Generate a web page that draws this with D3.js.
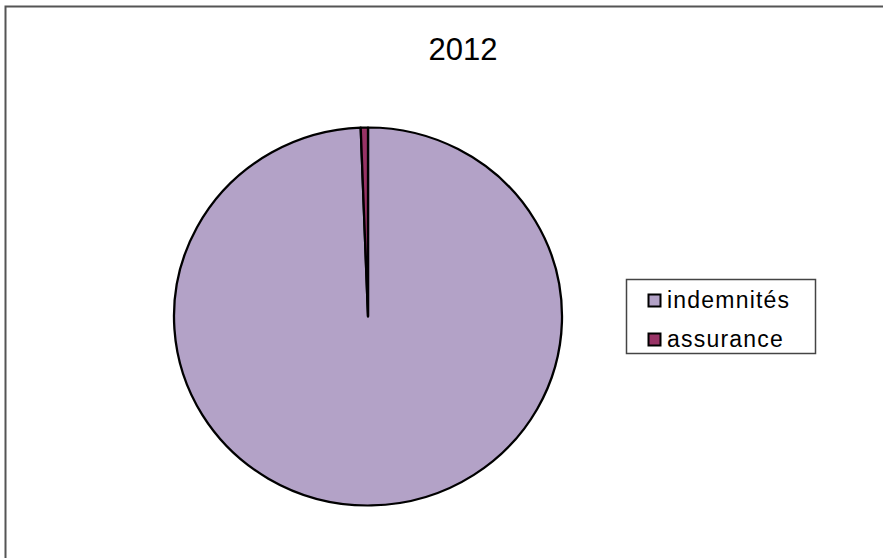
<!DOCTYPE html>
<meta charset="utf-8">
<head>
    <title>2012</title>
    <style>
        body { margin: 0; background: #fff; }
        text { font-family: "Liberation Sans", Arial, sans-serif; }
    </style>
</head>

<script src="https://d3js.org/d3.v7.min.js"></script>

<div id="dataVis"></div>

<script>

    // data
    var title = "2012";
    var categories = ["indemnités", "assurance"];
    var values = [99.4, 0.6];
    var colors = ["#B3A2C7", "#993366"];

    var width = 883,
        height = 558,
        cx = 368, cy = 316.5,
        rx = 194, ry = 189;

    var svg = d3.select("#dataVis")
        .append("svg")
        .attr("width", width)
        .attr("height", height);

    // chart frame (cut off on the right and bottom)
    svg.append("path")
        .attr("d", "M5.5," + height + "V6.5H" + width)
        .attr("fill", "none")
        .attr("stroke", "#555")
        .attr("stroke-width", 2);

    // title
    svg.append("text")
        .attr("x", 463)
        .attr("y", 60)
        .attr("text-anchor", "middle")
        .style("font-size", "31px")
        .text(title);

    var data = categories.map(function (c, i) { return { name: c, value: values[i], color: colors[i] }; });

    var pie = d3.pie()
        .sort(null)
        .value(function (d) { return d.value; });

    var arc = d3.arc()
        .innerRadius(0)
        .outerRadius(rx);

    var g = svg.append("g")
        .attr("transform", "translate(" + cx + "," + cy + ") scale(1," + (ry / rx) + ")");

    g.selectAll("path")
        .data(pie(data))
        .enter()
        .append("path")
        .attr("d", arc)
        .attr("fill", function (d) { return d.data.color; })
        .attr("stroke", "#000")
        .attr("stroke-width", 2.3)
        .attr("stroke-linejoin", "round");

    // legend
    var legend = svg.append("g");
    legend.append("rect")
        .attr("x", 626.5)
        .attr("y", 279.5)
        .attr("width", 189)
        .attr("height", 74)
        .attr("fill", "#fff")
        .attr("stroke", "#444")
        .attr("stroke-width", 1.5);

    var item = legend.selectAll("g.item")
        .data(data)
        .enter()
        .append("g")
        .attr("class", "item")
        .attr("transform", function (d, i) { return "translate(648," + (294 + i * 39) + ")"; });

    item.append("rect")
        .attr("x", 0.5)
        .attr("y", 0.5)
        .attr("width", 12)
        .attr("height", 12)
        .attr("fill", function (d) { return d.color; })
        .attr("stroke", "#000")
        .attr("stroke-width", 2);

    item.append("text")
        .attr("x", 19)
        .attr("y", 13.5)
        .style("font-size", "23px")
        .style("letter-spacing", "1.2px")
        .text(function (d) { return d.name; });

</script>
